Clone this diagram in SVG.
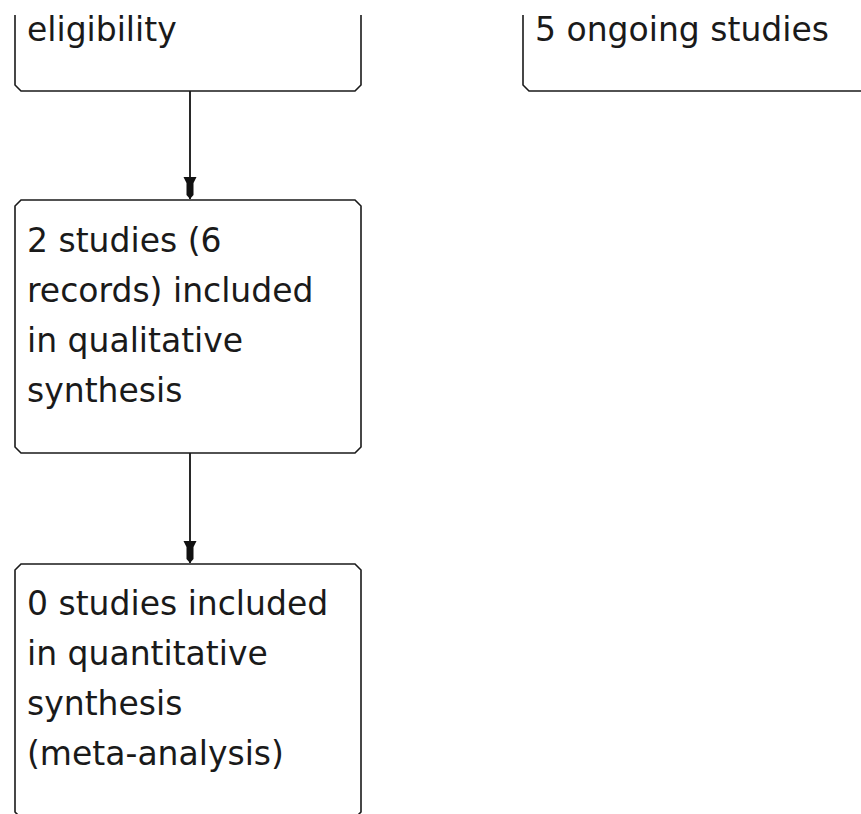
<svg xmlns="http://www.w3.org/2000/svg" width="861" height="814" viewBox="0 0 861 814">
<style>
.box{fill:#fff;stroke:#1a1a1a;stroke-width:1.6}
.open{fill:none;stroke:#1a1a1a;stroke-width:1.6}
.t{font-family:"DejaVu Sans",Verdana,sans-serif;font-size:33px;fill:#1a1a1a}
.conn{stroke:#111;stroke-width:1.8;fill:none}
</style>
<defs>
<marker id="ah" markerUnits="userSpaceOnUse" markerWidth="30" markerHeight="20" refX="0" refY="0" viewBox="-24 -10 30 20" orient="auto" overflow="visible">
<path d="M-22,-6.5 L-22,6.5 L-16,3.5 L-4,3.5 L0,0 L-4,-3.5 L-16,-3.5 Z" fill="#111"/>
</marker>
</defs>
<rect width="861" height="814" fill="#fff"/>
<g id="connectors">
<line class="conn" x1="190" y1="91" x2="190" y2="199" marker-end="url(#ah)"/>
<line class="conn" x1="190" y1="453" x2="190" y2="563" marker-end="url(#ah)"/>
</g>
<g id="node-eligibility">
<path class="open" d="M15,15 V85 L21,91 H355 L361,85 V15"/>
<text class="t" x="27" y="41">eligibility</text>
</g>
<g id="node-ongoing">
<path class="open" d="M523,15 V85 L529,91 H870"/>
<text class="t" x="535" y="41">5 ongoing studies</text>
</g>
<g id="node-qualitative">
<path class="box" d="M21,200 H355 L361,206 V447 L355,453 H21 L15,447 V206 Z"/>
<text class="t" x="27" y="252">2 studies (6</text>
<text class="t" x="27" y="302">records) included</text>
<text class="t" x="27" y="352">in qualitative</text>
<text class="t" x="27" y="402">synthesis</text>
</g>
<g id="node-quantitative">
<path class="box" d="M21,564 H355 L361,570 V812 L355,818 H21 L15,812 V570 Z"/>
<text class="t" x="27" y="615">0 studies included</text>
<text class="t" x="27" y="665">in quantitative</text>
<text class="t" x="27" y="715">synthesis</text>
<text class="t" x="27" y="765">(meta-analysis)</text>
</g>
</svg>
